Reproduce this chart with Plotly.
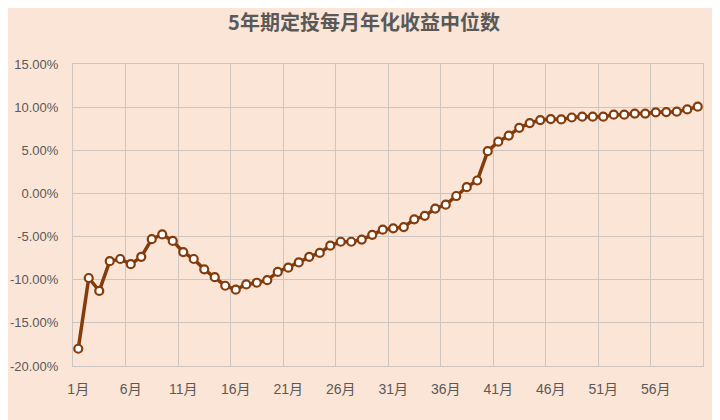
import plotly.graph_objects as go

# 5年期定投 每月年化收益中位数 (%)
months = list(range(1, 61))
median_return = [
    -18.0, -9.8, -11.3, -7.85, -7.6, -8.2, -7.35, -5.3, -4.75, -5.5,
    -6.8, -7.6, -8.8, -9.7, -10.7, -11.15, -10.55, -10.35, -10.05, -9.1,
    -8.6, -8.0, -7.35, -6.9, -6.05, -5.6, -5.6, -5.35, -4.8, -4.2,
    -4.05, -3.9, -3.0, -2.6, -1.75, -1.3, -0.3, 0.73, 1.5, 4.9,
    6.0, 6.7, 7.6, 8.15, 8.5, 8.62, 8.58, 8.8, 8.9, 8.9,
    8.9, 9.13, 9.13, 9.25, 9.25, 9.4, 9.43, 9.47, 9.74, 10.05,
]
x_tick_vals = [1, 6, 11, 16, 21, 26, 31, 36, 41, 46, 51, 56]
x_tick_text = ["1月", "6月", "11月", "16月", "21月", "26月", "31月", "36月",
               "41月", "46月", "51月", "56月"]
y_tick_vals = [15, 10, 5, 0, -5, -10, -15, -20]
y_tick_text = ["15.00%", "10.00%", "5.00%", "0.00%", "-5.00%", "-10.00%",
               "-15.00%", "-20.00%"]

brown = "#843C0C"
grid = "#CDC6C0"
x_font = dict(family="Liberation Sans, Noto Sans CJK SC", size=14, color="#595959")
y_font = dict(family="Liberation Sans, Noto Sans CJK SC", size=13, color="#595959")

fig = go.Figure()
fig.add_trace(go.Scatter(
    x=months,
    y=median_return,
    mode="lines+markers",
    line=dict(color=brown, width=3.5),
    marker=dict(size=8, color="white", line=dict(color=brown, width=2.2)),
    showlegend=False,
))

# the page body has an 8px margin, so the figure is a bit smaller than the window
fig.update_layout(
    width=712,
    height=412,
    paper_bgcolor="#FBE5D6",
    plot_bgcolor="#FBE5D6",
    margin=dict(l=65, r=17, t=56, b=54),
    title=dict(
        text="5年期定投每月年化收益中位数",
        x=0.5, xanchor="center",
        y=0.964, yanchor="middle",
        font=dict(family="Noto Sans CJK SC", size=20, color="#595959", weight="bold"),
    ),
)

fig.update_xaxes(
    range=[0.5, 60.5],
    tickmode="array",
    tickvals=x_tick_vals,
    ticktext=x_tick_text,
    showgrid=False,
    zeroline=False,
    ticks="",
    ticklabelstandoff=10,
    tickfont=x_font,
    automargin=False,
    showline=True, linecolor=grid, linewidth=1, mirror=True,
    minor=dict(tickvals=[v - 0.5 for v in x_tick_vals] + [60.5],
               showgrid=True, gridcolor=grid, gridwidth=1),
)
fig.update_yaxes(
    range=[-20, 15],
    tickmode="array",
    tickvals=y_tick_vals,
    ticktext=y_tick_text,
    showgrid=True,
    gridcolor=grid,
    gridwidth=1,
    zeroline=False,
    ticks="",
    ticklabelstandoff=11,
    tickfont=y_font,
    automargin=False,
    showline=True, linecolor=grid, linewidth=1, mirror=True,
)

fig.write_html("out.html")
